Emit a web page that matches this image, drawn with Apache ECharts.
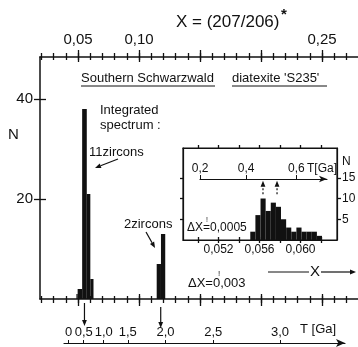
<!DOCTYPE html>
<html>
<head>
<meta charset="UTF-8" />
<script src="https://cdn.jsdelivr.net/npm/echarts@6/dist/echarts.min.js"></script>
<style>
  body { margin: 0; background: #fff; }
  #chart { width: 358px; height: 347px; }
</style>
</head>
<body>
<div id="chart"></div>
<script>
// main histogram (dX = 0.003): bin edges in X = (207/206)* and counts N
var mainLo = [0.0487, 0.0497, 0.0534, 0.0572, 0.0601, 0.1145, 0.1180]
var mainHi = [0.0497, 0.0534, 0.0572, 0.0601, 0.0627, 0.1180, 0.1215]
var mainN = [1, 2, 38, 21, 4, 7, 13]

// inset histogram (dX = 0.0005)
var insetLo = [0.0551, 0.0556, 0.0561, 0.0566, 0.0571, 0.0576, 0.0581, 0.0586, 0.0591, 0.0596, 0.0601, 0.0606, 0.0611, 0.0616]
var insetN = [2, 6, 10, 7, 9, 8, 5, 3, 2, 3, 2, 2, 2, 1]
var insetBin = 0.0005

// axis ticks and labels
var topMajor = [0.05, 0.10, 0.15, 0.20, 0.25]
var topLabeled = [0.05, 0.10, 0.25]
var nTicks = [20, 40]
var tLabels = ['0', '0,5', '1,0', '1,5', '2,0', '2,5', '3,0']
var tPos = [0.0424, 0.0547, 0.0711, 0.0908, 0.1217, 0.1609, 0.2156]
var insetTicks = [0.050, 0.052, 0.054, 0.056, 0.058, 0.060, 0.062]
var insetLabeled = [0.052, 0.056, 0.060]
var insetNTicks = [5, 10, 15]
var insetTLabels = ['0,2', '0,4', '0,6']
var insetTPos = [0.0502, 0.0547, 0.0596]

var minorTicks = []
for (var i = 2; i <= 27; i++) minorTicks.push(i / 100)

var FONT = "'Liberation Sans', Arial, sans-serif"
var INK = '#111'

// main X scale: x = 40px at XMIN, 1220 px per unit
var XMIN = 0.01885, PX = 1220
function mainX(px) { return XMIN + (px - 40) / PX }
// inset X scale: 0.056 at 259.5px, 10250 px per unit
function insetX(px) { return 0.056 + (px - 259.5) / 10250 }

var mainRect = { left: 40, top: 57, right: 0, bottom: 48 }
var insetRect = { left: 183, top: 148, right: 21, bottom: 107 }
function grid(r, extra) {
  return Object.assign({ outerBoundsMode: 'none', containLabel: false }, r, extra || {})
}

var line = { show: true, onZero: false, lineStyle: { color: INK, width: 1.5 } }
var thin = { show: true, onZero: false, lineStyle: { color: INK, width: 1.2 } }

function ax(gridIndex, pos, min, max, o) {
  return Object.assign({
    type: 'value', gridIndex: gridIndex, position: pos, min: min, max: max,
    splitLine: { show: false }, axisLine: { show: false, onZero: false },
    axisTick: { show: false }, axisLabel: { show: false }
  }, o || {})
}
function ticks(vals, len, inside, width) {
  return { show: true, customValues: vals, length: len, inside: !!inside, lineStyle: { color: INK, width: width || 1.3 } }
}
function comma(d) { return function (v) { return v.toFixed(d).replace('.', ',') } }

var XMAX = mainX(358)
var xAxes = [
  ax(0, 'top', XMIN, XMAX, { axisLine: line, axisTick: ticks(minorTicks, 4) }),
  ax(0, 'bottom', XMIN, XMAX, { axisLine: line, axisTick: ticks(minorTicks, 4) }),
  ax(1, 'top', XMIN, XMAX, { axisTick: ticks(minorTicks, 3, true) }),
  ax(1, 'bottom', XMIN, XMAX, { axisTick: ticks(minorTicks, 3, true) }),
  ax(2, 'top', XMIN, XMAX, {
    axisTick: ticks(topMajor, 7),
    axisLabel: { show: true, customValues: topLabeled, formatter: comma(2), margin: 10, color: INK, fontSize: 15, fontFamily: FONT }
  }),
  ax(2, 'bottom', XMIN, XMAX, { axisTick: ticks(topMajor, 7) }),
  ax(3, 'top', XMIN, XMAX, { axisTick: ticks(topMajor, 5, true) }),
  ax(3, 'bottom', XMIN, XMAX, { axisTick: ticks(topMajor, 5, true) }),
  // T [Ga] scale under the main plot
  ax(4, 'bottom', mainX(64), mainX(345), {
    axisLine: { show: true, onZero: false, symbol: ['none', 'arrow'], symbolSize: [6, 9], lineStyle: { color: INK, width: 1.2 } },
    axisTick: ticks(tPos, 3, true, 1),
    axisLabel: {
      show: true, inside: true, customValues: tPos, margin: 4, color: INK, fontSize: 13, fontFamily: FONT,
      formatter: function (v) { return tLabels[tPos.indexOf(v)] }
    }
  }),
  // inset
  ax(5, 'top', insetX(183), insetX(337), { axisLine: thin, axisTick: ticks(insetTicks, 3) }),
  ax(5, 'bottom', insetX(183), insetX(337), {
    axisLine: thin, axisTick: ticks(insetTicks, 3),
    axisLabel: { show: true, customValues: insetLabeled, formatter: comma(3), margin: 4, color: INK, fontSize: 12, fontFamily: FONT }
  }),
  ax(6, 'bottom', insetX(183), insetX(337), { axisTick: ticks(insetTicks, 3, true) }),
  // T [Ga] scale inside the inset
  ax(7, 'bottom', insetX(200), insetX(327), {
    axisLine: { show: true, onZero: false, symbol: ['none', 'arrow'], symbolSize: [5, 8], lineStyle: { color: INK, width: 1.1 } },
    axisTick: ticks(insetTPos, 4, true, 1),
    axisLabel: {
      show: true, inside: true, customValues: insetTPos, margin: 4, color: INK, fontSize: 12, fontFamily: FONT,
      formatter: function (v) { return insetTLabels[insetTPos.indexOf(v)] }
    }
  })
]

var NMAX = 48.4, NIMAX = 22.17
var yAxes = [
  ax(0, 'left', 0, NMAX, {
    axisLine: line, axisTick: ticks(nTicks, 6),
    axisLabel: { show: true, customValues: nTicks, margin: 7, color: INK, fontSize: 15, fontFamily: FONT }
  }),
  ax(1, 'left', 0, NMAX, { axisTick: ticks(nTicks, 6, true) }),
  ax(2, 'left', 0, NMAX, { show: false }),
  ax(3, 'left', 0, NMAX, { show: false }),
  ax(4, 'left', 0, 1, { show: false }),
  ax(5, 'left', 0, NIMAX, { axisLine: thin, axisTick: ticks(insetNTicks, 3) }),
  ax(5, 'right', 0, NIMAX, {
    axisLine: thin, axisTick: ticks(insetNTicks, 4),
    axisLabel: {
      show: true, customValues: insetNTicks.concat([18.8]), margin: 5, color: INK, fontSize: 12, fontFamily: FONT,
      formatter: function (v) { return v > 16 ? 'N' : String(v) }
    }
  }),
  ax(6, 'left', 0, NIMAX, { show: false }),
  ax(7, 'left', 0, 1, { show: false })
]

function renderBar(params, api) {
  var p0 = api.coord([api.value(0), api.value(2)])
  var p1 = api.coord([api.value(1), 0])
  return { type: 'rect', shape: { x: p0[0], y: p0[1], width: p1[0] - p0[0], height: p1[1] - p0[1] }, style: { fill: INK } }
}
function arrowParts(x1, y1, x2, y2, dash) {
  var a = Math.atan2(y2 - y1, x2 - x1), L = 6, W = 2.4
  var bx = x2 - L * Math.cos(a), by = y2 - L * Math.sin(a)
  var px = -Math.sin(a) * W, py = Math.cos(a) * W
  return [
    { type: 'line', shape: { x1: x1, y1: y1, x2: bx, y2: by }, style: { stroke: INK, lineWidth: 1.2, lineDash: dash ? [2, 2] : null } },
    { type: 'polygon', shape: { points: [[x2, y2], [bx + px, by + py], [bx - px, by - py]] }, style: { fill: INK } }
  ]
}
function renderArrow(dash) {
  return function (params, api) {
    var a = api.coord([api.value(0), api.value(1)])
    var b = api.coord([api.value(0), api.value(2)])
    return { type: 'group', children: arrowParts(a[0], a[1], b[0], b[1], dash) }
  }
}

var mainData = mainLo.map(function (lo, i) { return [lo, mainHi[i], mainN[i]] })
var insetData = insetLo.map(function (lo, i) { return [lo, lo + insetBin, insetN[i]] })

function txt(s, x, y, size, extra) {
  return { type: 'text', x: x, y: y, z: 10, style: Object.assign({ text: s, fill: INK, fontSize: size, fontFamily: FONT, verticalAlign: 'middle' }, extra || {}) }
}
function seg(x1, y1, x2, y2) {
  return { type: 'line', z: 10, shape: { x1: x1, y1: y1, x2: x2, y2: y2 }, style: { stroke: INK, lineWidth: 1 } }
}
function arrow(x1, y1, x2, y2) {
  return { type: 'group', z: 10, children: arrowParts(x1, y1, x2, y2, false) }
}

var graphics = [
  txt('X = (207/206)', 176, 22, 17),
  txt('*', 281, 15, 15, { fontWeight: 'bold' }),
  txt('N', 8, 135, 15),
  txt('Southern Schwarzwald', 81, 78, 13),
  seg(81, 86, 215, 86),
  txt("diatexite 'S235'", 232, 78, 13),
  seg(232, 86, 327, 86),
  txt('Integrated', 100, 110, 13),
  txt('spectrum :', 100, 125, 13),
  txt('11zircons', 89, 152, 13),
  arrow(118, 159, 95, 168),
  txt('2zircons', 124, 224, 13),
  arrow(146, 232, 155, 248),
  txt('\u0394X=0,003', 188, 283, 13),
  txt('!', 218, 274, 8),
  txt('\u0394X=0,0005', 187, 228, 12),
  txt('!', 206, 220, 7),
  seg(268, 272, 309, 272),
  txt('X', 310, 272, 15),
  arrow(321, 272, 356, 272),
  txt('T [Ga]', 300, 329, 13),
  txt('T[Ga]', 307, 169, 12)
]

var chart = echarts.init(document.getElementById('chart'), null, { renderer: 'canvas' })
chart.setOption({
  animation: false,
  backgroundColor: '#fff',
  grid: [
    grid(mainRect), grid(mainRect), grid(mainRect), grid(mainRect),
    grid({ left: 64, right: 13, top: 340, bottom: 4 }),
    grid(insetRect, { show: true, backgroundColor: '#fff', borderColor: INK, borderWidth: 1.2 }),
    grid(insetRect),
    grid({ left: 200, right: 31, top: 175, bottom: 168 })
  ],
  xAxis: xAxes,
  yAxis: yAxes,
  series: [
    { type: 'custom', xAxisIndex: 0, yAxisIndex: 0, renderItem: renderBar, data: mainData, silent: true },
    { type: 'custom', xAxisIndex: 9, yAxisIndex: 5, renderItem: renderBar, data: insetData, silent: true },
    { type: 'custom', xAxisIndex: 0, yAxisIndex: 0, renderItem: renderArrow(false), data: [[0.0553, -0.8, -5.4], [0.1178, -1.6, -5.8]], silent: true },
    { type: 'custom', xAxisIndex: 9, yAxisIndex: 5, renderItem: renderArrow(true), data: [[0.05634, 11, 14.3], [0.05771, 11, 14.3]], silent: true }
  ],
  graphic: graphics
})
</script>
</body>
</html>
